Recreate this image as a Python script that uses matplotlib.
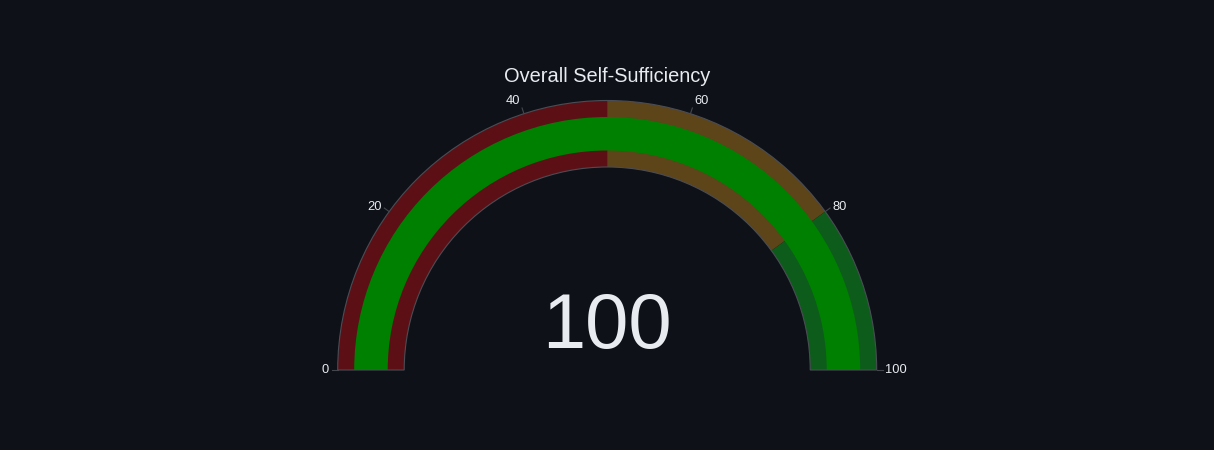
import numpy as np
import matplotlib.pyplot as plt
from matplotlib.patches import Wedge

# gauge data
title = "Overall Self-Sufficiency"
value = 100
gauge_min = 0
gauge_max = 100
step_ranges = [(0, 50), (50, 80), (80, 100)]
step_colors = ["#5c1016", "#5d4419", "#0d5c1b"]
bar_color = "#008000"
tick_values = [0, 20, 40, 60, 80, 100]

BG = "#0e1117"
TEXT = "#e8ebf0"


def to_angle(v):
    # 0 on the left, 100 on the right, measured counter-clockwise from +x
    return 180.0 - (v - gauge_min) / (gauge_max - gauge_min) * 180.0


fig = plt.figure(figsize=(12.14, 4.5), dpi=100)
fig.patch.set_facecolor(BG)
ax = fig.add_axes([0, 0, 1, 1])
ax.set_facecolor(BG)
ax.set_xlim(0, 1214)
ax.set_ylim(0, 450)
ax.axis("off")

cx, cy = 607.2, 80.0
r_out = 269.5
r_in = 203.0
bar_out = 253.0
bar_in = 219.5

# background steps
for (lo, hi), col in zip(step_ranges, step_colors):
    ax.add_patch(Wedge((cx, cy), r_out, to_angle(hi), to_angle(lo),
                       width=r_out - r_in, facecolor=col, edgecolor="none",
                       zorder=1))

# value bar
ax.add_patch(Wedge((cx, cy), bar_out, to_angle(value), to_angle(gauge_min),
                   width=bar_out - bar_in, facecolor=bar_color,
                   edgecolor="none", zorder=2))

# thin border round the gauge
ax.add_patch(Wedge((cx, cy), r_out, 0, 180, width=r_out - r_in,
                   facecolor="none", edgecolor="#4a4d55", linewidth=0.8,
                   zorder=3))

# ticks and labels
for t in tick_values:
    a = np.radians(to_angle(t))
    ca, sa = np.cos(a), np.sin(a)
    ax.plot([cx + r_out * ca, cx + (r_out + 6) * ca],
            [cy + r_out * sa, cy + (r_out + 6) * sa],
            color="#44474e", linewidth=0.8, zorder=3)
    ha = "right" if ca < -0.01 else "left"
    r_lab = 283 if sa > 0.9 else 278
    ax.text(cx + r_lab * ca, cy + r_lab * sa, str(t), color=TEXT,
            fontsize=9.3, family="Liberation Sans", ha=ha, va="center")

ax.text(cx, 368, title, color=TEXT, fontsize=14.4, family="Liberation Sans",
        ha="center", va="baseline")
ax.text(cx, 102, f"{value}", color=TEXT, fontsize=56, family="Liberation Sans",
        ha="center", va="baseline")

fig.savefig("out.png", dpi=100, facecolor=BG)
